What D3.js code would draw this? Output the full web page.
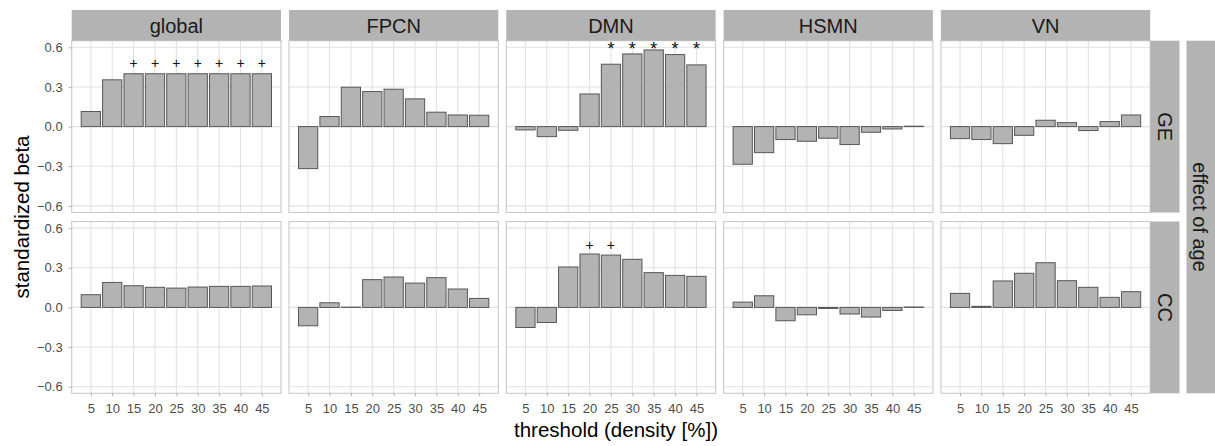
<!DOCTYPE html>
<html><head><meta charset="utf-8">
<script src="https://cdn.jsdelivr.net/npm/d3@7"></script>
<style>
body{margin:0;background:#fff}
text{font-family:"Liberation Sans", Arial, Helvetica, sans-serif}
</style>
</head><body><svg id="chart" width="1215" height="446"></svg>
<script>
// ---------- data ----------
const thresholds = [5, 10, 15, 20, 25, 30, 35, 40, 45];
const networks = ["global", "FPCN", "DMN", "HSMN", "VN"];
const measures = ["GE", "CC"];
const yTicks = [-0.6, -0.3, 0.0, 0.3, 0.6];
const xTickLabels = ["5", "10", "15", "20", "25", "30", "35", "40", "45"];

const geGlobal = [0.114, 0.354, 0.400, 0.400, 0.400, 0.400, 0.400, 0.400, 0.400];
const geFPCN   = [-0.318, 0.076, 0.298, 0.265, 0.283, 0.210, 0.109, 0.088, 0.086];
const geDMN    = [-0.025, -0.076, -0.028, 0.247, 0.472, 0.550, 0.580, 0.545, 0.467];
const geHSMN   = [-0.285, -0.197, -0.098, -0.111, -0.088, -0.136, -0.043, -0.018, 0.003];
const geVN     = [-0.091, -0.098, -0.129, -0.066, 0.048, 0.030, -0.030, 0.038, 0.088];

const ccGlobal = [0.096, 0.189, 0.164, 0.152, 0.146, 0.154, 0.159, 0.159, 0.162];
const ccFPCN   = [-0.139, 0.035, 0.002, 0.210, 0.230, 0.184, 0.225, 0.139, 0.068];
const ccDMN    = [-0.152, -0.114, 0.306, 0.404, 0.396, 0.364, 0.263, 0.242, 0.235];
const ccHSMN   = [0.040, 0.088, -0.101, -0.056, -0.008, -0.050, -0.073, -0.023, 0.003];
const ccVN     = [0.106, 0.008, 0.200, 0.258, 0.338, 0.202, 0.152, 0.076, 0.119];

// significance markers and the data-unit height of each panel's marker row
const sigGEGlobal = ["", "", "+", "+", "+", "+", "+", "+", "+"];
const sigGEDMN    = ["", "", "", "", "*", "*", "*", "*", "*"];
const sigCCDMN    = ["", "", "", "+", "+", "", "", "", ""];
const sigHeightGEGlobal = 0.48;
const sigHeightGEDMN = 0.62;
const sigHeightCCDMN = 0.467;

const xTitle = "threshold (density [%])";
const yTitle = "standardized beta";
const facetTitle = "effect of age";

// ---------- assemble ----------
const values = {
  GE: {global: geGlobal, FPCN: geFPCN, DMN: geDMN, HSMN: geHSMN, VN: geVN},
  CC: {global: ccGlobal, FPCN: ccFPCN, DMN: ccDMN, HSMN: ccHSMN, VN: ccVN}
};
const sigs = [
  {measure: "GE", network: "global", labels: sigGEGlobal, y: sigHeightGEGlobal},
  {measure: "GE", network: "DMN", labels: sigGEDMN, y: sigHeightGEDMN},
  {measure: "CC", network: "DMN", labels: sigCCDMN, y: sigHeightCCDMN}
];

// ---------- layout ----------
const svg = d3.select("#chart");
const left0 = 71.7, panelW = 209.3, colStep = 217.3;
const rowTops = [40.7, 221.5], panelH = 171.8;
const stripTop = 10;
const rightStripX = left0 + 4 * colStep + panelW, rightStripW = 29.3;
const outerStripX = 1186.5, outerStripW = 29;

const gridColor = "#e2e2e2", borderColor = "#c9c9c9", stripFill = "#b3b3b3";
const barFill = "#b3b3b3", barStroke = "#565656";

const xScales = networks.map((n, i) =>
  d3.scaleLinear().domain([0.525, 49.475]).range([left0 + i * colStep, left0 + i * colStep + panelW]));
const yScales = measures.map((m, j) =>
  d3.scaleLinear().domain([-0.65, 0.65]).range([rowTops[j] + panelH, rowTops[j]]));

const barHalf = 2.25;

measures.forEach((m, j) => {
  const ys = yScales[j];
  networks.forEach((n, i) => {
    const xs = xScales[i];
    const g = svg.append("g");
    const [x0, x1] = xs.range();
    const [yb, yt] = ys.range();
    g.append("rect").attr("x", x0).attr("y", yt).attr("width", x1 - x0).attr("height", yb - yt)
      .attr("fill", "#fff");
    // grid
    g.selectAll("line.h").data(yTicks).join("line")
      .attr("x1", x0).attr("x2", x1).attr("y1", d => ys(d)).attr("y2", d => ys(d))
      .attr("stroke", gridColor).attr("stroke-width", 1.1);
    g.selectAll("line.v").data(thresholds).join("line")
      .attr("y1", yt).attr("y2", yb).attr("x1", d => xs(d)).attr("x2", d => xs(d))
      .attr("stroke", gridColor).attr("stroke-width", 1.1);
    // bars
    const data = thresholds.map((t, k) => ({t, v: values[m][n][k]}));
    g.selectAll("rect.bar").data(data).join("rect")
      .attr("class", "bar")
      .attr("x", d => xs(d.t - barHalf))
      .attr("width", d => xs(d.t + barHalf) - xs(d.t - barHalf))
      .attr("y", d => ys(Math.max(d.v, 0)))
      .attr("height", d => Math.abs(ys(d.v) - ys(0)))
      .attr("fill", barFill).attr("stroke", barStroke).attr("stroke-width", 1);
    // border
    g.append("rect").attr("x", x0).attr("y", yt).attr("width", x1 - x0).attr("height", yb - yt)
      .attr("fill", "none").attr("stroke", borderColor).attr("stroke-width", 1.1);
  });
});

// significance markers
sigs.forEach(s => {
  const xs = xScales[networks.indexOf(s.network)];
  const ys = yScales[measures.indexOf(s.measure)];
  const d = thresholds.map((t, k) => ({t, lab: s.labels[k]})).filter(d => d.lab !== "");
  svg.append("g").selectAll("text").data(d).join("text")
    .attr("x", d => xs(d.t))
    .attr("y", d => ys(s.y) + (d.lab === "*" ? 0.58 * 18 : 0.34 * 14))
    .attr("text-anchor", "middle")
    .attr("font-size", d => d.lab === "*" ? 18 : 14)
    .attr("fill", "#111")
    .text(d => d.lab);
});

// top strips
networks.forEach((n, i) => {
  const [x0, x1] = xScales[i].range();
  svg.append("rect").attr("x", x0).attr("y", stripTop).attr("width", x1 - x0)
    .attr("height", rowTops[0] - stripTop).attr("fill", stripFill);
  svg.append("text").attr("x", (x0 + x1) / 2).attr("y", (stripTop + rowTops[0]) / 2)
    .attr("dy", "0.36em").attr("text-anchor", "middle").attr("font-size", 20)
    .attr("fill", "#1a1a1a").text(n);
});

// right strips
measures.forEach((m, j) => {
  const [yb, yt] = yScales[j].range();
  svg.append("rect").attr("x", rightStripX).attr("y", yt).attr("width", rightStripW)
    .attr("height", yb - yt).attr("fill", stripFill);
  const cx = rightStripX + rightStripW / 2, cy = (yt + yb) / 2;
  svg.append("text").attr("transform", `translate(${cx},${cy}) rotate(90)`)
    .attr("dy", "0.36em").attr("text-anchor", "middle").attr("font-size", 20)
    .attr("fill", "#1a1a1a").text(m);
});

// outer strip
{
  const yt = rowTops[0], yb = rowTops[1] + panelH;
  svg.append("rect").attr("x", outerStripX).attr("y", yt).attr("width", outerStripW)
    .attr("height", yb - yt).attr("fill", stripFill);
  svg.append("text").attr("transform", `translate(${outerStripX + 13.5},${(yt + yb) / 2}) rotate(90)`)
    .attr("dy", "0.36em").attr("text-anchor", "middle").attr("font-size", 20)
    .attr("fill", "#1a1a1a").text(facetTitle);
}

// axes
function styleAxis(sel) {
  sel.select(".domain").remove();
  sel.selectAll(".tick line").attr("stroke", "#b3b3b3").attr("stroke-width", 1);
  sel.selectAll(".tick text").attr("font-size", 13).attr("fill", "#4d4d4d")
    .attr("font-family", '"Liberation Sans", Arial, sans-serif');
}
measures.forEach((m, j) => {
  svg.append("g").attr("transform", `translate(${left0},0)`)
    .call(d3.axisLeft(yScales[j]).tickValues(yTicks).tickFormat(d3.format(".1f")).tickSize(3).tickPadding(6))
    .call(styleAxis);
});
networks.forEach((n, i) => {
  svg.append("g").attr("transform", `translate(0,${rowTops[1] + panelH})`)
    .call(d3.axisBottom(xScales[i]).tickValues(thresholds).tickFormat((d, k) => xTickLabels[k]).tickSize(3).tickPadding(7))
    .call(styleAxis);
});

// titles
svg.append("text").attr("x", 616).attr("y", 430).attr("dy", "0.36em")
  .attr("text-anchor", "middle").attr("font-size", 20.5).attr("fill", "#000").text(xTitle);
svg.append("text").attr("transform", `translate(22,${(rowTops[0] + rowTops[1] + panelH) / 2}) rotate(-90)`)
  .attr("dy", "0.36em").attr("text-anchor", "middle").attr("font-size", 20.5).attr("fill", "#000").text(yTitle);
</script>
</body></html>
